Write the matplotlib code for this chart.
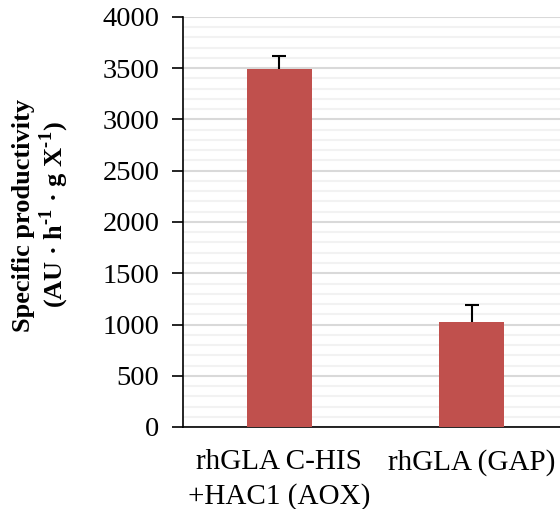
import matplotlib.pyplot as plt
from matplotlib.ticker import MultipleLocator

categories = ['rhGLA C-HIS\n+HAC1 (AOX)', 'rhGLA (GAP)']
productivity = [3490, 1020]
errors = [130, 175]

plt.rcParams['font.family'] = ['Liberation Serif', 'DejaVu Serif']
plt.rcParams['mathtext.fontset'] = 'custom'
plt.rcParams['mathtext.rm'] = 'Liberation Serif'
plt.rcParams['mathtext.bf'] = 'Liberation Serif:bold'

fig = plt.figure(figsize=(5.6, 5.09), dpi=100)
ax = fig.add_axes([183 / 560, 1 - 427 / 509, 385 / 560, 410 / 509])

x = range(len(categories))
ax.bar(x, productivity, width=0.34, color='#C0504D', zorder=3)
# upper error only: hide the lower caps
_, caps, _ = ax.errorbar(x, productivity, yerr=[[0] * len(errors), errors], fmt='none',
                         ecolor='black', elinewidth=1.5, capsize=4.7, capthick=1.5, zorder=4)
caps[0].set_visible(False)

ax.set_xlim(-0.5, 1.5)
ax.set_ylim(0, 4000)
ax.yaxis.set_major_locator(MultipleLocator(500))
ax.yaxis.set_minor_locator(MultipleLocator(100))
ax.grid(axis='y', which='major', color='#d9d9d9', linewidth=1.5, zorder=0)
ax.grid(axis='y', which='minor', color='#f2f2f2', linewidth=1.5, zorder=0)

ax.set_xticks(list(x))
ax.set_xticklabels(categories, fontsize=21, linespacing=1.4)
ax.tick_params(axis='x', length=0, pad=16)
ax.tick_params(axis='y', which='major', direction='out', length=8, width=1.2,
               labelsize=20.5, pad=9)
ax.tick_params(axis='y', which='minor', length=0)

for side in ['top', 'right']:
    ax.spines[side].set_visible(False)
for side in ['left', 'bottom']:
    ax.spines[side].set_linewidth(1.2)

ax.set_ylabel('Specific productivity\n(AU · h$^{\\mathbf{\u20101}}$ · g X$^{\\mathbf{\u20101}}$)',
              fontsize=19, fontweight='bold', linespacing=1.1)
ax.yaxis.set_label_coords(-0.29, 0.517)

fig.savefig('out.png', dpi=100)
